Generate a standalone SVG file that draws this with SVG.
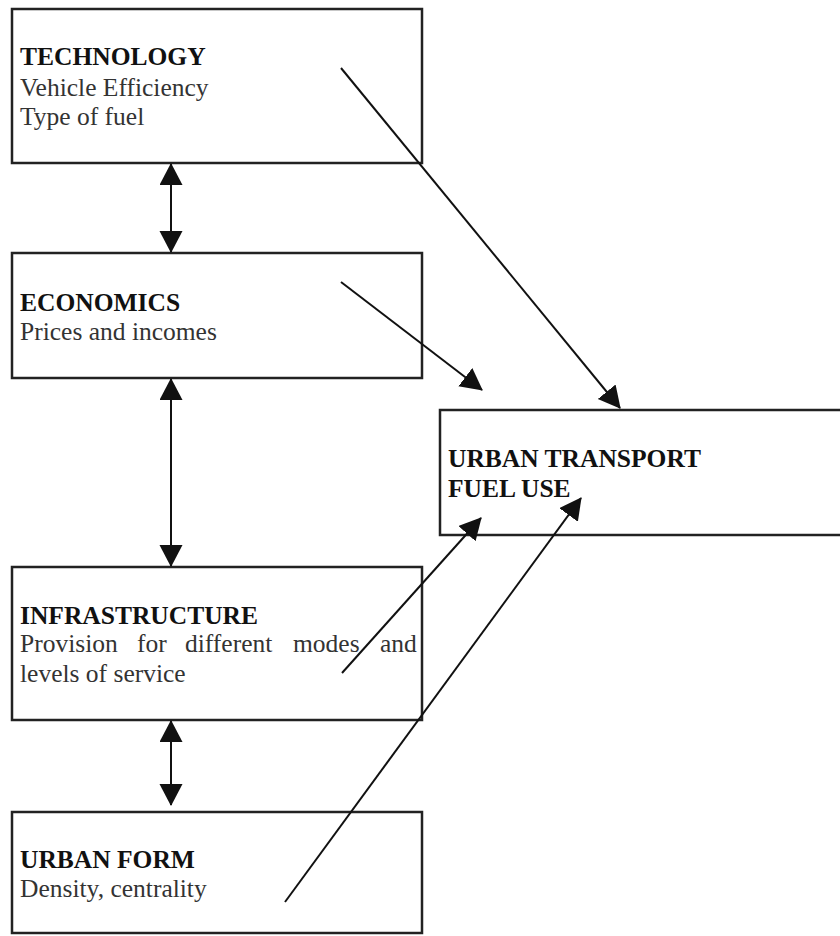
<svg xmlns="http://www.w3.org/2000/svg" width="840" height="936" viewBox="0 0 840 936">
<style>
.box{fill:#fff;stroke:#222;stroke-width:2.5}
.t{font-family:"Liberation Serif","Times New Roman",serif;font-size:25.5px;fill:#333}
.b{font-weight:bold;fill:#111}
.c{stroke:#111;stroke-width:2;fill:none}
</style>
<defs>
<marker id="ah" markerUnits="userSpaceOnUse" markerWidth="22" markerHeight="24" refX="21" refY="11.5" orient="auto-start-reverse" viewBox="0 0 22 24">
<path d="M0,0 L22,11.5 L0,23 Z" fill="#111"/>
</marker>
</defs>
<g id="technology">
<rect class="box" x="12" y="9" width="410" height="154"/>
<text class="t b" x="20" y="65">TECHNOLOGY</text>
<text class="t" x="20" y="96">Vehicle Efficiency</text>
<text class="t" x="20" y="125">Type of fuel</text>
</g>
<g id="economics">
<rect class="box" x="12" y="253" width="410" height="125"/>
<text class="t b" x="20" y="311">ECONOMICS</text>
<text class="t" x="20" y="340">Prices and incomes</text>
</g>
<g id="infrastructure">
<rect class="box" x="12" y="567" width="410" height="153"/>
<text class="t b" x="20" y="624">INFRASTRUCTURE</text>
<text class="t" y="652"><tspan x="20">Provision</tspan><tspan x="137">for</tspan><tspan x="185">different</tspan><tspan x="293">modes</tspan><tspan x="380">and</tspan></text>
<text class="t" x="20" y="682">levels of service</text>
</g>
<g id="urban-form">
<rect class="box" x="12" y="812" width="410" height="121"/>
<text class="t b" x="20" y="868">URBAN FORM</text>
<text class="t" x="20" y="897">Density, centrality</text>
</g>
<g id="urban-transport">
<rect class="box" x="440" y="410" width="420" height="125"/>
<text class="t b" x="448" y="467">URBAN TRANSPORT</text>
<text class="t b" x="448" y="497">FUEL USE</text>
</g>
<g id="connectors">
<line class="c" x1="171" y1="164" x2="171" y2="252" marker-start="url(#ah)" marker-end="url(#ah)"/>
<line class="c" x1="171" y1="379" x2="171" y2="566" marker-start="url(#ah)" marker-end="url(#ah)"/>
<line class="c" x1="171" y1="721" x2="171" y2="805" marker-start="url(#ah)" marker-end="url(#ah)"/>
<line class="c" x1="341" y1="68" x2="620" y2="408" marker-end="url(#ah)"/>
<line class="c" x1="341" y1="282" x2="482" y2="390" marker-end="url(#ah)"/>
<line class="c" x1="342" y1="673" x2="481" y2="518" marker-end="url(#ah)"/>
<line class="c" x1="285" y1="902" x2="581" y2="498" marker-end="url(#ah)"/>
</g>
</svg>
